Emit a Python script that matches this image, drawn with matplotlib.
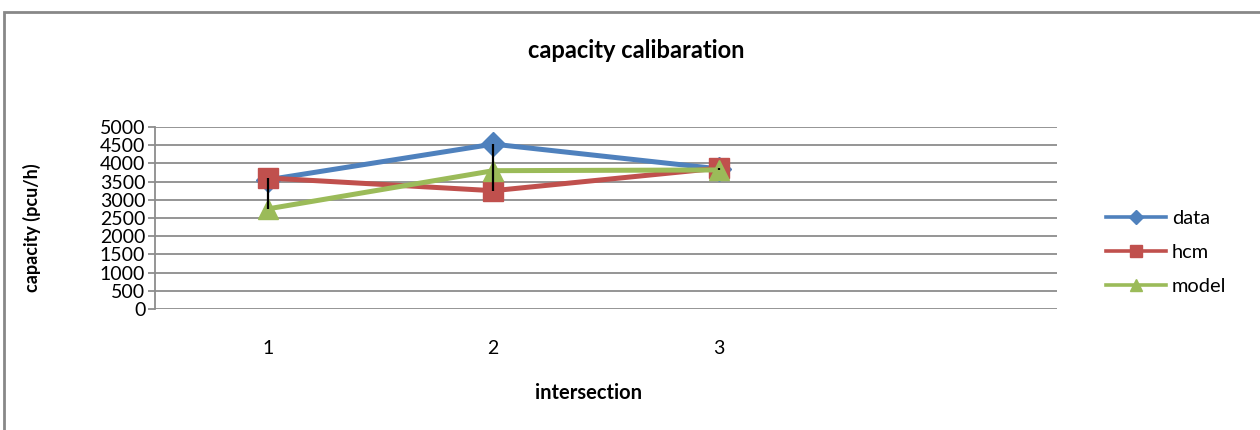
import numpy as np
import matplotlib
matplotlib.use("Agg")
import matplotlib.pyplot as plt
from matplotlib.patches import Rectangle

plt.rcParams['font.family'] = ['Lato', 'DejaVu Sans']

# values
categories = [1, 2, 3, 4]
tick_labels = ['1', '2', '3', '']
data = [3550, 4530, 3850]
hcm = [3600, 3250, 3870]
model = [2750, 3800, 3820]

series = [('data', data, '#4F81BD', 'D', 12, 7),
          ('hcm', hcm, '#C0504D', 's', 14, 9),
          ('model', model, '#9BBB59', '^', 14, 9)]

fig = plt.figure(figsize=(12.6, 4.3), dpi=100)
ax = fig.add_axes([155/1260, 1-309/430, (1057-155)/1260, (309-127)/430])

x = np.array(categories[:3])
# high-low lines
lows = np.min([data, hcm, model], axis=0)
highs = np.max([data, hcm, model], axis=0)
ax.vlines(x, lows, highs, colors='black', lw=1.6, zorder=5)

handles = []
for name, vals, col, mk, ms, lms in series:
    ax.plot(x, vals, color=col, lw=3.6, marker=mk, ms=ms, zorder=3)
    h, = plt.plot([], [], color=col, lw=2.6, marker=mk, ms=lms, label=name)
    handles.append(h)

ax.set_xlim(0.5, 4.5)
ax.set_ylim(0, 5000)
ax.set_yticks(np.arange(0, 5001, 500))
ax.set_xticks(categories)
ax.set_xticklabels(tick_labels)
ax.yaxis.grid(True, color='#8c8c8c', lw=1.3)
ax.set_axisbelow(True)
for s in ['top', 'right', 'bottom']:
    ax.spines[s].set_visible(False)
ax.spines['left'].set_color('#8c8c8c')
ax.spines['left'].set_linewidth(1.3)
ax.tick_params(axis='y', length=5, width=1.3, color='#8c8c8c', labelsize=14, pad=2)
ax.tick_params(axis='x', length=0, labelsize=14, pad=22)

fig.text(636/1260, 1-50/430, 'capacity calibaration', ha='center', va='center',
         fontsize=17, fontweight='bold')
fig.text(589/1260, 1-393/430, 'intersection', ha='center', va='center',
         fontsize=14.5, fontweight='bold')
fig.text(32/1260, 1-228/430, 'capacity (pcu/h)', ha='center', va='center',
         rotation=90, fontsize=13, fontweight='bold')

fig.legend(handles=handles, loc='center left', bbox_to_anchor=(1088/1260, 1-252/430),
           frameon=False, fontsize=14.4, handlelength=3.0, labelspacing=0.85,
           handletextpad=0.3)

fig.patches.append(Rectangle((4/1260, -0.1), 1.2, 1.1-12/430, transform=fig.transFigure,
                             fill=False, edgecolor='#888888', lw=2))

fig.savefig('out.png', dpi=100)
